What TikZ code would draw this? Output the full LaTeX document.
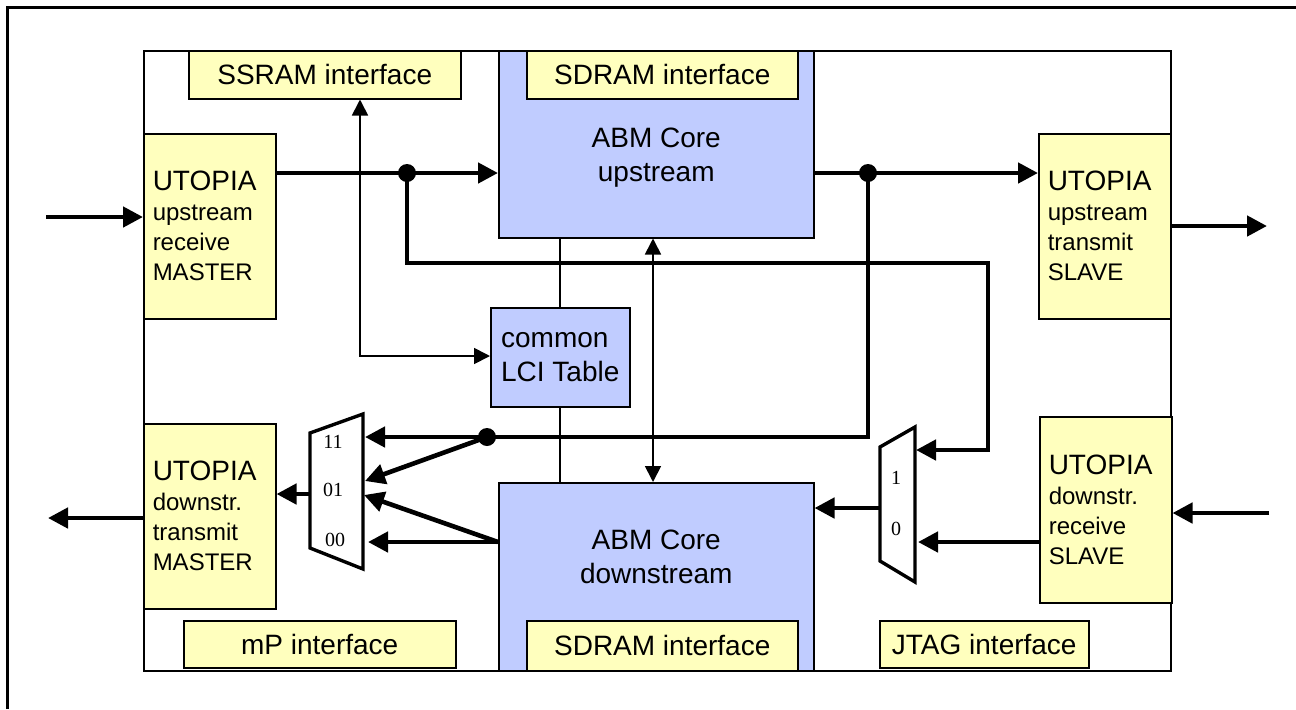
\documentclass[tikz,border=0pt]{standalone}
\usepackage{fontspec}
\setmainfont{Liberation Sans}
\newfontfamily\muxfont{Liberation Serif}
\usetikzlibrary{positioning,calc,arrows.meta}
\definecolor{ifyellow}{RGB}{255,255,190}
\definecolor{coreblue}{RGB}{192,204,255}

\begin{document}
\begin{tikzpicture}[
    x=0.5pt, y=-0.5pt,
    >={Triangle[length=10pt,width=10pt]},
    every node/.style={font=\fontsize{14}{17}\selectfont, inner sep=0pt},
    bus/.style={line width=2.3pt},
    wire/.style={line width=0.85pt, >={Triangle[length=8pt,width=8pt]}},
    ifbox/.style={draw, line width=0.75pt, fill=ifyellow, anchor=north west},
    utopia/.style={ifbox, minimum width=66pt, minimum height=92.5pt,
                   text width=57pt, inner xsep=4.5pt, align=left,
                   font=\fontsize{12}{15}\selectfont},
    corebox/.style={draw, line width=0.75pt, fill=coreblue, anchor=north west},
    muxshape/.style={line width=1.7pt, line join=miter},
    muxlabel/.style={font=\muxfont\fontsize{10}{12}\selectfont},
    joint/.style={circle, fill, minimum size=9pt, inner sep=0pt}
]

\useasboundingbox (0,0) rectangle (1296,709);

%======================
% Coordinates
%======================

% free ends outside the chip
\coordinate (iUR) at (46,217);
\coordinate (oUT) at (1267,226);
\coordinate (oDT) at (48,518);
\coordinate (iDR) at (1269,513);

% junctions and corners
\coordinate (jA) at (407,173);
\coordinate (jB) at (868,173);
\coordinate (jC) at (487,437);
\coordinate (kA) at (988,263);
\coordinate (kS) at (360,356);
\coordinate (kV) at (653,360);

% 4:1 mux
\coordinate (m4a) at (310,433);
\coordinate (m4b) at (363,414);
\coordinate (m4c) at (363,569);
\coordinate (m4d) at (310,548);
\coordinate (m4in11)  at (365,437);
\coordinate (m4in01a) at (365,481);
\coordinate (m4in01b) at (364,495);
\coordinate (m4in00)  at (368,542);
\coordinate (m4out)   at (310,494);

% 2:1 mux
\coordinate (m2a) at (880,447);
\coordinate (m2b) at (915,427);
\coordinate (m2c) at (915,582);
\coordinate (m2d) at (880,561);
\coordinate (m2in1) at (916,450);
\coordinate (m2in0) at (918,542);
\coordinate (m2out) at (880,508);

%======================
% Frames
%======================

\draw[line width=1.5pt] (7,709) -- (7,7) -- (1296,7);
\node[draw, line width=0.75pt, minimum width=513.5pt, minimum height=310pt,
      anchor=north west] (chip) at (143,50) {};

%======================
% Blocks
%======================

\node[utopia, minimum height=92.5pt] (urx) at (143,133)
    {{\fontsize{14}{15}\selectfont UTOPIA}\\upstream\\receive\\MASTER};
\node[utopia, minimum height=92.5pt] (utx) at (1038,133)
    {{\fontsize{14}{15}\selectfont UTOPIA}\\upstream\\transmit\\SLAVE};
\node[utopia, minimum height=92.5pt] (dtx) at (143,423)
    {{\fontsize{14}{15}\selectfont UTOPIA}\\downstr.\\transmit\\MASTER};
\node[utopia, minimum height=93pt] (drx) at (1039,416)
    {{\fontsize{14}{15}\selectfont UTOPIA}\\downstr.\\receive\\SLAVE};

\node[corebox, minimum width=157.5pt, minimum height=93.5pt,
      label={[align=center, yshift=-6.75pt]center:ABM Core\\upstream}]
      (abmup) at (498,50) {};
\node[corebox, minimum width=157.5pt, minimum height=94pt,
      label={[align=center, yshift=10pt]center:ABM Core\\downstream}]
      (abmdn) at (498,482) {};
\node[corebox, minimum width=69.5pt, minimum height=49.5pt, align=left]
      (lci) at (490,307) {common\\LCI Table};

%======================
% Interfaces
%======================

\node[ifbox, minimum width=136pt, minimum height=24pt] (ssram) at (188,50) {SSRAM interface};
\node[ifbox, minimum width=135.5pt, minimum height=24pt] (sdup) at (526,50) {SDRAM interface};
\node[ifbox, minimum width=135.5pt, minimum height=25pt] (sddn) at (526,620) {SDRAM interface};
\node[ifbox, minimum width=136pt, minimum height=23.5pt] (mpif) at (183,620) {mP interface};
\node[ifbox, minimum width=104.5pt, minimum height=23.5pt] (jtag) at (879,620) {JTAG interface};

%======================
% Muxes
%======================

\draw[muxshape] (m4a) -- (m4b) -- (m4c) -- (m4d) -- cycle;
\node[muxlabel] (sel11) at (333,442) {11};
\node[muxlabel] (sel01) at (333,490) {01};
\node[muxlabel] (sel00) at (335,540) {00};

\draw[muxshape] (m2a) -- (m2b) -- (m2c) -- (m2d) -- cycle;
\node[muxlabel] (sel1) at (896,478) {1};
\node[muxlabel] (sel0) at (896,529) {0};

%======================
% Data paths
%======================

% upstream
\draw[bus,->] (iUR) -- (urx.west |- iUR);
\draw[bus,->] (urx.east |- jA) -- (abmup.west |- jA);
\draw[bus,->] (abmup.east |- jB) -- (utx.west |- jB);
\draw[bus,->] (utx.east |- oUT) -- (oUT);

% loop back into the muxes
\draw[bus,->] (jA) |- (kA) |- (m2in1);
\draw[bus,->] (jB) |- (m4in11);
\draw[bus,->] (jC) -- (m4in01a);
\draw[bus,->] (abmdn.west |- m4in00) -- (m4in00);
\draw[bus,->] (abmdn.west |- m4in00) -- (m4in01b);

% downstream
\draw[bus,->] (iDR) -- (drx.east |- iDR);
\draw[bus,->] (drx.west |- m2in0) -- (m2in0);
\draw[bus,->] (m2out) -- (abmdn.east |- m2out);
\draw[bus,->] (m4out) -- (dtx.east |- m4out);
\draw[bus,->] (dtx.west |- oDT) -- (oDT);

% joints
\node[joint] (dotA) at (jA) {};
\node[joint] (dotB) at (jB) {};
\node[joint] (dotC) at (jC) {};

%======================
% Control paths
%======================

\draw[wire] (abmup.south -| lci.north) -- (lci.north);
\draw[wire] (lci.south) -- (abmdn.north -| lci.south);
\draw[wire,<->] (abmup.south -| kV) -- (abmdn.north -| kV);
\draw[wire,<->] (ssram.south -| kS) -- (kS) -- (lci.west |- kS);

\end{tikzpicture}
\end{document}
